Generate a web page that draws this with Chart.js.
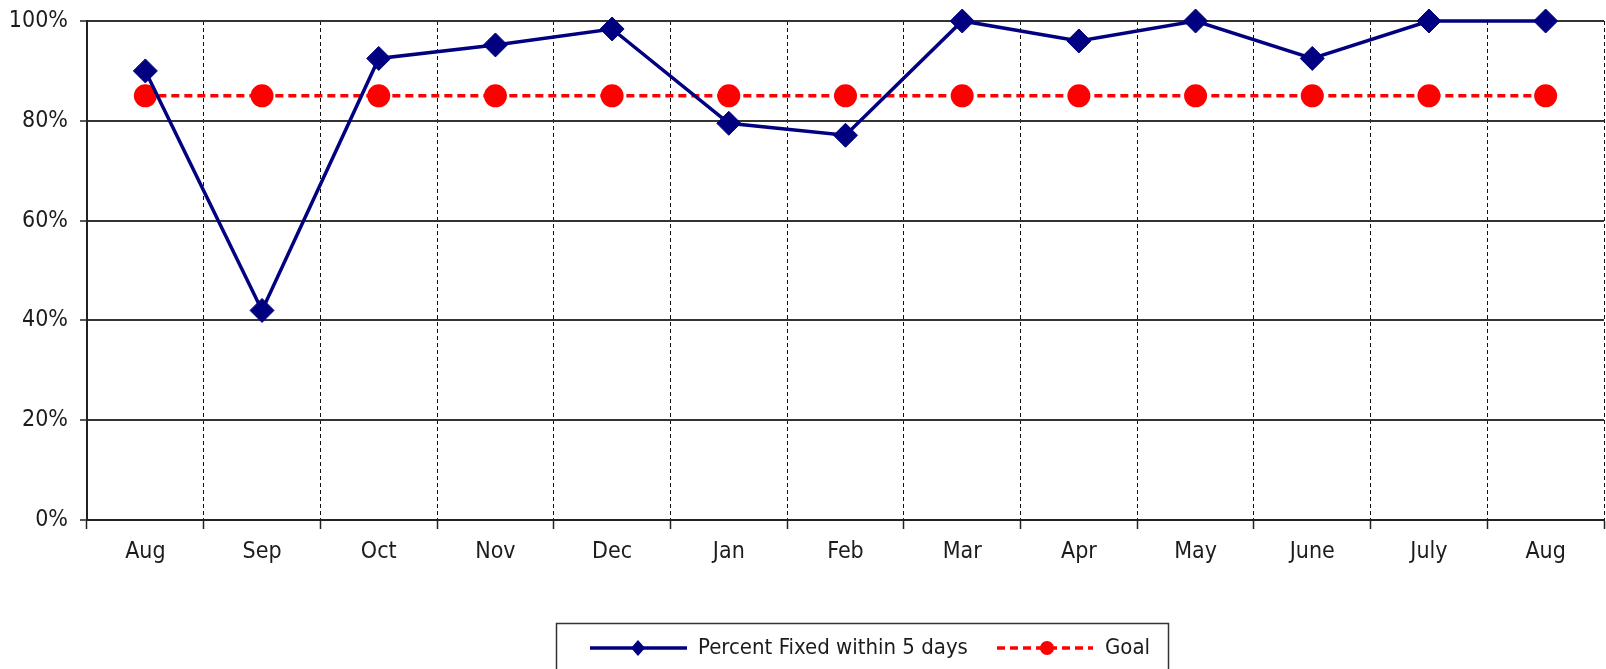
<!DOCTYPE html>
<html>
<head>
<meta charset="utf-8">
<script src="https://cdn.jsdelivr.net/npm/chart.js"></script>
<style>
  html, body { margin: 0; padding: 0; background: #fff; }
  #wrap { position: relative; width: 1606px; height: 669px; }
</style>
</head>
<body>
<div id="wrap"><canvas id="c" width="1606" height="669"></canvas></div>
<script>
const categories = ['Aug', 'Sep', 'Oct', 'Nov', 'Dec', 'Jan', 'Feb', 'Mar', 'Apr', 'May', 'June', 'July', 'Aug'];
const percentFixed = [90, 42, 92.5, 95.2, 98.4, 79.5, 77.1, 100, 96, 100, 92.5, 100, 100];
const goal = [85, 85, 85, 85, 85, 85, 85, 85, 85, 85, 85, 85, 85];
const yTicks = [0, 20, 40, 60, 80, 100];
const seriesNames = ['Percent Fixed within 5 days', 'Goal'];

const FONT = "'Liberation Sans Narrow', 'Arial Narrow', 'DejaVu Sans Condensed', sans-serif";
const NAVY = '#000080';
const RED = '#ff0000';
const TEXT = '#1c1c1c';

const legendPlugin = {
  id: 'boxLegend',
  afterDraw(chart) {
    const ctx = chart.ctx;
    ctx.save();
    ctx.strokeStyle = '#333';
    ctx.lineWidth = 1.5;
    ctx.setLineDash([]);
    ctx.strokeRect(556.5, 623.5, 612, 80);
    ctx.strokeStyle = NAVY;
    ctx.lineWidth = 3.5;
    ctx.beginPath(); ctx.moveTo(590, 648); ctx.lineTo(687, 648); ctx.stroke();
    ctx.fillStyle = NAVY;
    ctx.beginPath();
    ctx.moveTo(638, 640); ctx.lineTo(645, 648); ctx.lineTo(638, 656); ctx.lineTo(631, 648); ctx.closePath();
    ctx.fill();
    ctx.strokeStyle = RED;
    ctx.setLineDash([8, 5]);
    ctx.beginPath(); ctx.moveTo(997, 648); ctx.lineTo(1093, 648); ctx.stroke();
    ctx.setLineDash([]);
    ctx.fillStyle = RED;
    ctx.beginPath(); ctx.arc(1047, 648, 7, 0, Math.PI * 2); ctx.fill();
    ctx.fillStyle = TEXT;
    ctx.font = "22px " + FONT;
    ctx.textBaseline = 'middle';
    ctx.textAlign = 'left';
    ctx.fillText(seriesNames[0], 698, 648);
    ctx.fillText(seriesNames[1], 1105, 648);
    ctx.restore();
  }
};

new Chart(document.getElementById('c'), {
  type: 'line',
  data: {
    labels: categories,
    datasets: [
      {
        label: seriesNames[0],
        data: percentFixed,
        borderColor: NAVY,
        backgroundColor: NAVY,
        borderWidth: 3.5,
        pointStyle: 'rectRot',
        pointRadius: 12,
        pointBorderWidth: 1,
        pointBackgroundColor: NAVY,
        pointBorderColor: NAVY,
        tension: 0,
        clip: false
      },
      {
        label: seriesNames[1],
        data: goal,
        borderColor: RED,
        backgroundColor: RED,
        borderWidth: 3.5,
        borderDash: [8, 5],
        pointStyle: 'circle',
        pointRadius: 11.5,
        pointBorderWidth: 0,
        pointBackgroundColor: RED,
        pointBorderColor: RED,
        tension: 0,
        clip: false
      }
    ]
  },
  options: {
    responsive: false,
    animation: false,
    layout: { autoPadding: false, padding: { top: 21, right: 2, left: 0, bottom: 0 } },
    plugins: {
      legend: { display: false },
      tooltip: { enabled: false }
    },
    scales: {
      x: {
        offset: true,
        afterFit(scale) { scale.height = 149; },
        grid: {
          offset: true,
          color: '#111',
          lineWidth: 1,
          drawTicks: true,
          tickLength: 9,
          tickColor: '#222',
          tickWidth: 1.5,
          tickBorderDash: []
        },
        border: { display: true, color: '#222', width: 2, dash: [4, 3] },
        ticks: {
          color: TEXT,
          font: { family: FONT, size: 23 },
          padding: 9,
          maxRotation: 0,
          autoSkip: false
        }
      },
      y: {
        min: 0,
        max: 100,
        afterFit(scale) { scale.width = 87; scale.paddingTop = 0; scale.paddingBottom = 0; },
        afterBuildTicks(scale) { scale.ticks = yTicks.map(v => ({ value: v })); },
        grid: {
          color: '#333',
          lineWidth: 2,
          drawTicks: true,
          tickLength: 7,
          tickColor: '#222',
          tickWidth: 1.5
        },
        border: { display: true, color: '#222', width: 2 },
        ticks: {
          color: TEXT,
          font: { family: FONT, size: 23 },
          padding: 12,
          callback: v => v + '%'
        }
      }
    }
  },
  plugins: [legendPlugin]
});
</script>
</body>
</html>
